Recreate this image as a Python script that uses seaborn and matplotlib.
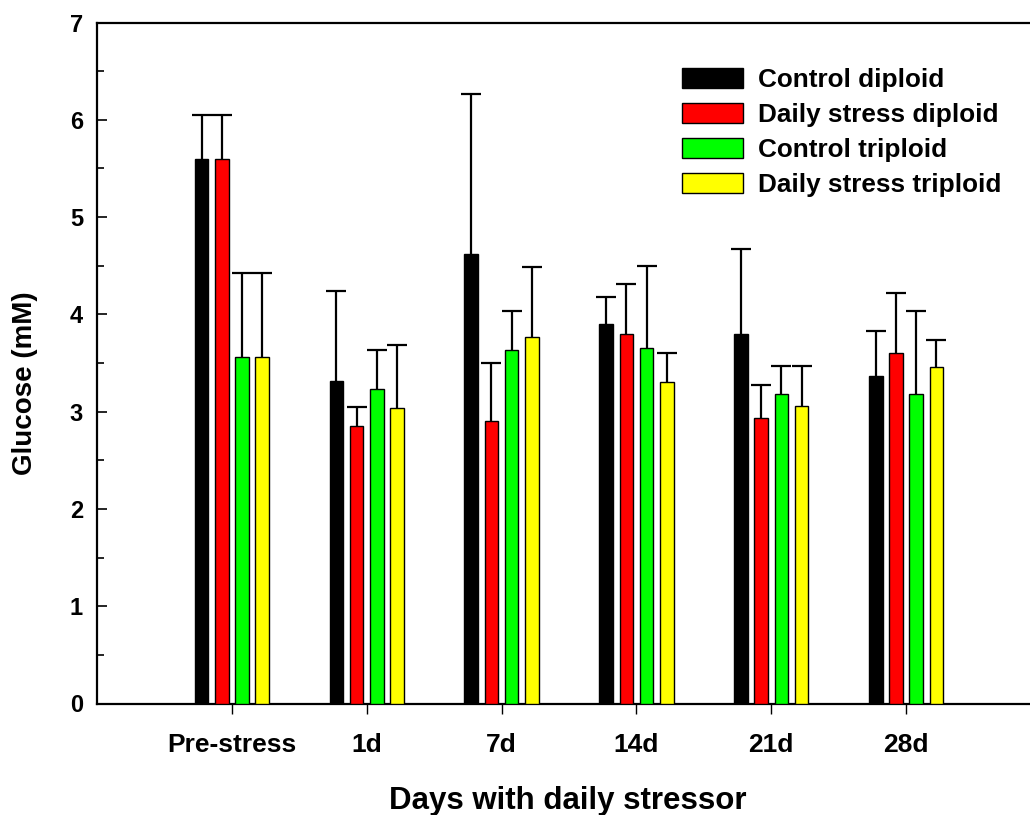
import matplotlib
matplotlib.use("Agg")
import matplotlib.pyplot as plt
from matplotlib.ticker import MultipleLocator
import seaborn as sns
import pandas as pd
import numpy as np

days = ["Pre-stress", "1d", "7d", "14d", "21d", "28d"]
groups = ["Control diploid", "Daily stress diploid", "Control triploid", "Daily stress triploid"]
colors = ["#000000", "#FF0000", "#00FF00", "#FFFF00"]

control_diploid = [5.60, 3.31, 4.62, 3.90, 3.80, 3.37]
stress_diploid = [5.60, 2.85, 2.90, 3.80, 2.93, 3.60]
control_triploid = [3.56, 3.23, 3.63, 3.65, 3.18, 3.18]
stress_triploid = [3.56, 3.04, 3.77, 3.30, 3.06, 3.46]

err_control_diploid = [0.45, 0.93, 1.65, 0.28, 0.87, 0.46]
err_stress_diploid = [0.45, 0.20, 0.60, 0.51, 0.34, 0.62]
err_control_triploid = [0.86, 0.40, 0.40, 0.85, 0.29, 0.85]
err_stress_triploid = [0.86, 0.64, 0.72, 0.30, 0.41, 0.28]

values = [control_diploid, stress_diploid, control_triploid, stress_triploid]
errors = [err_control_diploid, err_stress_diploid, err_control_triploid, err_stress_triploid]

df = pd.DataFrame({
    "day": np.tile(days, len(groups)),
    "group": np.repeat(groups, len(days)),
    "glucose": np.concatenate(values),
})

sns.set_theme(style="white")
plt.rcParams["font.family"] = ["Liberation Sans", "DejaVu Sans"]
plt.rcParams["font.weight"] = "bold"
for k in ["text.color", "axes.labelcolor", "xtick.color", "ytick.color", "axes.edgecolor"]:
    plt.rcParams[k] = "black"

fig = plt.figure(figsize=(10.30, 8.15), dpi=100)
ax = fig.add_axes([97 / 1030, (815 - 703.5) / 815, (1041 - 97) / 1030, 681 / 815])

sns.barplot(data=df, x="day", y="glucose", hue="group", order=days, hue_order=groups,
            palette=colors, width=0.6, gap=0.33, edgecolor="black", linewidth=1.0,
            saturation=1, errorbar=None, ax=ax, zorder=3)

for cont, err in zip(ax.containers, errors):
    xs = np.array([b.get_x() + b.get_width() / 2 for b in cont])
    hs = np.array([b.get_height() for b in cont])
    tops = hs + np.array(err)
    ax.vlines(xs, hs, tops, color="black", linewidth=1.6, zorder=2)
    ax.plot(xs, tops, linestyle="none", marker="_", markersize=14.5,
            markeredgewidth=1.6, color="black", zorder=2)

ax.set_xlim(-1.0, 6.0)
ax.set_ylim(0, 7)
ax.yaxis.set_major_locator(MultipleLocator(1))
ax.yaxis.set_minor_locator(MultipleLocator(0.5))

for side in ["left", "bottom", "top"]:
    ax.spines[side].set_visible(True)
    ax.spines[side].set_color("black")
    ax.spines[side].set_linewidth(1.6)
ax.spines["right"].set_visible(False)

ax.tick_params(axis="y", which="major", direction="in", length=7, width=1.2,
               labelsize=17, pad=10, left=True, color="black", labelcolor="black")
ax.tick_params(axis="y", which="minor", direction="in", length=5, width=1.2, left=True, color="black")
ax.tick_params(axis="x", which="major", direction="out", length=7, width=1.0,
               labelsize=19, pad=14, bottom=True, color="black", labelcolor="black")
for lab in ax.get_xticklabels() + ax.get_yticklabels():
    lab.set_fontweight("bold")

ax.set_xlabel("Days with daily stressor", fontsize=22.5, fontweight="bold", color="black")
ax.set_ylabel("Glucose (mM)", fontsize=20, fontweight="bold", color="black")
ax.xaxis.set_label_coords((568 - 97) / (1041 - 97), -(801 - 703.5) / 681)
ax.yaxis.set_label_coords(-(97 - 25) / (1041 - 97), (703.5 - 383) / 681)
ax.xaxis.label.set_va("center")
ax.yaxis.label.set_va("center")

handles, labels = ax.get_legend_handles_labels()
if ax.get_legend() is not None:
    ax.get_legend().remove()
leg = fig.legend(handles, labels, loc="upper left",
                 bbox_to_anchor=(682 / 1030, 1 - 68 / 815), frameon=False,
                 fontsize=18.8, handlelength=2.35, handleheight=0.8,
                 handletextpad=0.55, labelspacing=0.42, borderpad=0, borderaxespad=0)
for t in leg.get_texts():
    t.set_fontweight("bold")
    t.set_color("black")

fig.savefig("out.png", dpi=100)
